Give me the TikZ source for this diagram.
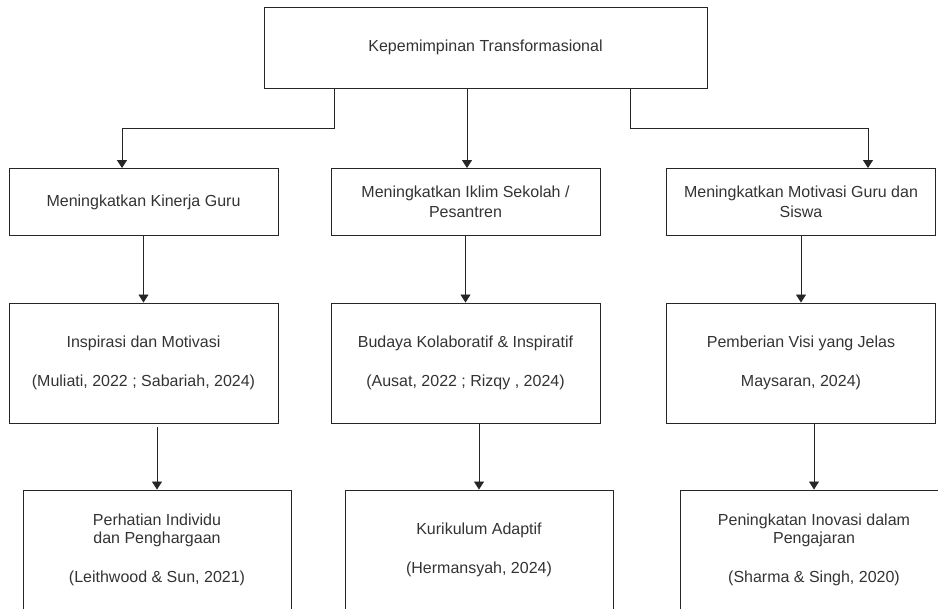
\documentclass[tikz,border=0pt]{standalone}
\usepackage{fontspec}
\setmainfont{Liberation Sans}
\usepackage{tikz}
\usetikzlibrary{positioning, arrows.meta}

\begin{document}
\begin{tikzpicture}[x=1pt, y=-1pt, node distance=161pt,
    font=\fontsize{16}{20}\selectfont,
    box/.style={rectangle, draw=black!85, line width=0.9pt, text=black!80, align=center, inner sep=0pt, minimum width=269pt, minimum height=67pt},
    tallbox/.style={box, minimum height=120pt},
    rootbox/.style={box, minimum width=443pt, minimum height=81pt},
    line/.style={draw=black!85, line width=0.9pt, -{Triangle[length=8pt,width=10pt]}}]

    \useasboundingbox (0,0) rectangle (938,609);
    \clip (0,0) rectangle (938,609);

    \node [rootbox] (root) at (485.5,47.5) {Kepemimpinan Transformasional};

    \node [box] (kinerja) at (143.5,202) {Meningkatkan Kinerja Guru};
    \node [box] (iklim) at (465.5,202) {Meningkatkan Iklim Sekolah /\\Pesantren};
    \node [box] (motivasi) at (801,202) {Meningkatkan Motivasi Guru dan\\Siswa};

    \node [tallbox, below of=kinerja] (inspirasi) {Inspirasi dan Motivasi\\[19pt](Muliati, 2022 ; Sabariah, 2024)};
    \node [tallbox, below of=iklim] (budaya) {Budaya Kolaboratif \& Inspiratif\\[19pt](Ausat, 2022 ; Rizqy , 2024)};
    \node [tallbox, below of=motivasi] (visi) {Pemberian Visi yang Jelas\\[19pt]Maysaran, 2024)};

    \node [tallbox, minimum width=268pt, below of=inspirasi, yshift=-26pt, xshift=13.5pt] (perhatian) {Perhatian Individu\\[-2pt]dan Penghargaan\\[19pt](Leithwood \& Sun, 2021)};
    \node [tallbox, minimum width=268pt, below of=budaya, yshift=-26pt, xshift=13.5pt] (kurikulum) {Kurikulum Adaptif\\[19pt](Hermansyah, 2024)};
    \node [tallbox, minimum width=268pt, below of=visi, yshift=-26pt, xshift=13pt] (inovasi) {Peningkatan Inovasi dalam\\[-2pt]Pengajaran\\[19pt](Sharma \& Singh, 2020)};

    \path [line] ([xshift=-151.5pt]root.south) -- ++(0pt,-40pt) -| ([xshift=-21.5pt]kinerja.north);
    \path [line] ([xshift=-18.5pt]root.south) -- ([xshift=1.5pt]iklim.north);
    \path [line] ([xshift=144.5pt]root.south) -- ++(0pt,-40pt) -| ([xshift=67pt]motivasi.north);

    \path [line] (kinerja) -- (inspirasi);
    \path [line] (iklim) -- (budaya);
    \path [line] (motivasi) -- (visi);

    \path [line, shorten <=4pt] (inspirasi.south -| perhatian.north) -- (perhatian.north);
    \path [line] (budaya.south -| kurikulum.north) -- (kurikulum.north);
    \path [line] (visi.south -| inovasi.north) -- (inovasi.north);

\end{tikzpicture}
\end{document}
